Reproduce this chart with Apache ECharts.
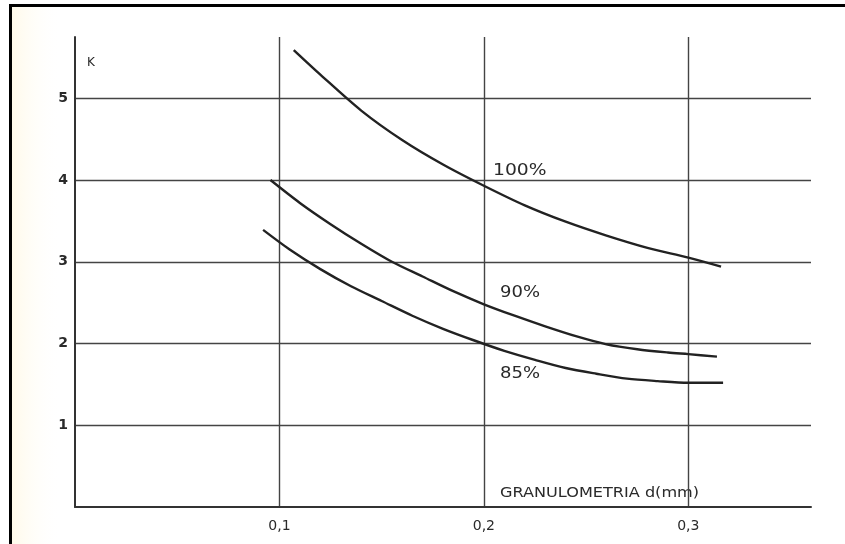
<!DOCTYPE html>
<html>
<head>
<meta charset="utf-8">
<script src="https://cdn.jsdelivr.net/npm/echarts@6/dist/echarts.min.js"></script>
<style>
  html, body { margin: 0; padding: 0; background: #fff; }
  #chart { width: 845px; height: 544px; }
</style>
</head>
<body>
<div id="chart"></div>
<script>
// granulometria d (mm) -> K
const curve100 = [[0.107, 5.59], [0.12, 5.29], [0.14, 4.85], [0.16, 4.49], [0.18, 4.19], [0.2, 3.93],
  [0.22, 3.69], [0.24, 3.49], [0.26, 3.32], [0.28, 3.17], [0.3, 3.05], [0.316, 2.94]];
const curve90 = [[0.0956, 4.0], [0.11, 3.72], [0.125, 3.46], [0.14, 3.22], [0.155, 3.0], [0.17, 2.82],
  [0.185, 2.64], [0.2, 2.48], [0.215, 2.34], [0.23, 2.21], [0.245, 2.09], [0.26, 1.99], [0.275, 1.93],
  [0.29, 1.89], [0.3, 1.87], [0.314, 1.84]];
const curve85 = [[0.092, 3.39], [0.105, 3.15], [0.12, 2.91], [0.135, 2.7], [0.15, 2.52], [0.165, 2.34],
  [0.18, 2.18], [0.195, 2.04], [0.21, 1.91], [0.225, 1.8], [0.24, 1.7], [0.255, 1.63], [0.27, 1.57],
  [0.285, 1.54], [0.3, 1.52], [0.317, 1.52]];
const seriesNames = ['100%', '90%', '85%'];
const xTickValues = [0.1, 0.2, 0.3];
const xTickLabels = ['0,1', '0,2', '0,3'];
const yTickValues = [1, 2, 3, 4, 5];
const yTickLabels = ['1', '2', '3', '4', '5'];

const chart = echarts.init(document.getElementById('chart'), null, { renderer: 'canvas' });

function tickLabel(values, labels) {
  return function (v) {
    const i = values.findIndex(t => Math.abs(t - v) < 1e-6);
    return i < 0 ? '' : labels[i];
  };
}

const lineStyle = { color: '#222', width: 2.4 };
const ink = '#2a2a2a';

const option = {
  backgroundColor: '#fff',
  animation: false,
  grid: { left: 75, right: 34, top: 37, bottom: 37, containLabel: false },
  xAxis: {
    type: 'value', min: 0, max: 0.36, interval: 0.1,
    axisLine: { show: true, lineStyle: { color: '#333', width: 2 } },
    axisTick: { show: false },
    axisLabel: {
      formatter: tickLabel(xTickValues, xTickLabels),
      margin: 12, color: ink, fontFamily: 'DejaVu Sans', fontSize: 14,
      showMinLabel: false, showMaxLabel: false
    },
    splitLine: { show: true, showMinLine: false, showMaxLine: false, lineStyle: { color: '#444', width: 1.4 } }
  },
  yAxis: {
    type: 'value', min: 0, max: 5.75, interval: 1,
    axisLine: { show: true, lineStyle: { color: '#333', width: 2 } },
    axisTick: { show: false },
    axisLabel: {
      formatter: tickLabel(yTickValues, yTickLabels),
      margin: 7, color: ink, fontFamily: 'DejaVu Sans', fontSize: 14, fontWeight: 'bold',
      showMinLabel: false, showMaxLabel: false
    },
    splitLine: { show: true, showMinLine: false, showMaxLine: false, lineStyle: { color: '#444', width: 1.4 } }
  },
  series: [curve100, curve90, curve85].map((d, i) => ({
    name: seriesNames[i], type: 'line', data: d, smooth: 0.3,
    showSymbol: false, lineStyle: lineStyle, z: 3
  })),
  graphic: [
    { type: 'rect', z: -10, shape: { x: 12, y: 7, width: 50, height: 537 },
      style: { fill: new echarts.graphic.LinearGradient(0, 0, 1, 0, [
        { offset: 0, color: '#fffaea' }, { offset: 1, color: 'rgba(255,255,255,0)' }]) } },
    { type: 'rect', shape: { x: 9, y: 4, width: 3, height: 540 }, style: { fill: '#000' } },
    { type: 'rect', shape: { x: 9, y: 4, width: 836, height: 3 }, style: { fill: '#000' } },
    { type: 'text', x: 87, y: 63, style: { text: 'K', fill: ink, font: '12px "DejaVu Sans"', verticalAlign: 'middle' } },
    { type: 'text', x: 500, y: 493, scaleX: 1.15,
      style: { text: 'GRANULOMETRIA d(mm)', fill: ink, font: '14px "DejaVu Sans"', verticalAlign: 'middle' } },
    { type: 'text', x: 493, y: 171, scaleX: 1.25,
      style: { text: seriesNames[0], fill: ink, font: '15px "DejaVu Sans"', verticalAlign: 'middle' } },
    { type: 'text', x: 500, y: 293, scaleX: 1.2,
      style: { text: seriesNames[1], fill: ink, font: '15px "DejaVu Sans"', verticalAlign: 'middle' } },
    { type: 'text', x: 500, y: 374, scaleX: 1.2,
      style: { text: seriesNames[2], fill: ink, font: '15px "DejaVu Sans"', verticalAlign: 'middle' } }
  ]
};
chart.setOption(option);
</script>
</body>
</html>
